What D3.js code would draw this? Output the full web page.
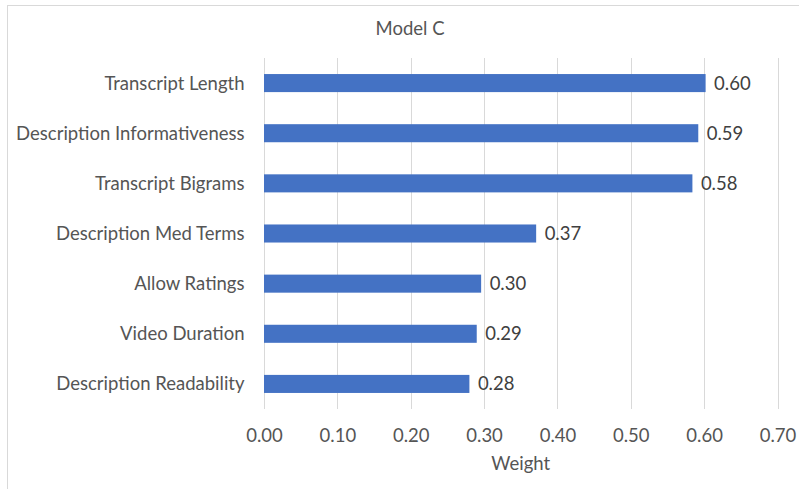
<!DOCTYPE html>
<html>
<head>
<meta charset="utf-8">
<script src="https://cdn.jsdelivr.net/npm/d3@7"></script>
<style>
  html, body { margin: 0; padding: 0; background: #fff; }
  svg { display: block; }
  text { font-family: Lato, "Open Sans", sans-serif; }
</style>
</head>
<body>
<svg id="chart" width="799" height="489"></svg>
<script>
// Feature weights for Model C
const categories = [
  "Transcript Length",
  "Description Informativeness",
  "Transcript Bigrams",
  "Description Med Terms",
  "Allow Ratings",
  "Video Duration",
  "Description Readability"
];
const weights = [0.602, 0.592, 0.584, 0.371, 0.296, 0.290, 0.280];
const xTicks = [0, 0.1, 0.2, 0.3, 0.4, 0.5, 0.6, 0.7];
const chartTitle = "Model C";
const xTitle = "Weight";

const data = categories.map((c, i) => ({ name: c, value: weights[i] }));

const svg = d3.select("#chart");
const W = 799, H = 489;
const plot = { left: 264, right: 777.5, top: 58, bottom: 409 };
const fontSize = "18.5px";
const axisColor = "#555555";

// chart frame
svg.append("rect")
  .attr("x", 7.5).attr("y", 5.5)
  .attr("width", W).attr("height", H)
  .attr("fill", "#fff").attr("stroke", "#d9d9d9").attr("stroke-width", 1);

const x = d3.scaleLinear().domain([0, 0.7]).range([plot.left, plot.right]);
const y = d3.scaleBand().domain(categories)
  .range([plot.top, plot.bottom])
  .paddingInner(0.64).paddingOuter(0.32);

// vertical gridlines
svg.append("g").selectAll("line")
  .data(xTicks).join("line")
  .attr("x1", d => Math.round(x(d)) + 0.5).attr("x2", d => Math.round(x(d)) + 0.5)
  .attr("y1", plot.top).attr("y2", plot.bottom)
  .attr("stroke", "#d9d9d9").attr("stroke-width", 1);

// x axis tick labels
const xAxis = d3.axisBottom(x).tickValues(xTicks).tickFormat(d3.format(".2f")).tickSize(0).tickPadding(0);
const gx = svg.append("g").attr("transform", `translate(0,${plot.bottom})`).call(xAxis);
gx.select(".domain").remove();
gx.selectAll("text")
  .attr("y", 27).attr("dy", "0.35em")
  .attr("fill", axisColor).style("font-size", fontSize);

// category labels
const yAxis = d3.axisLeft(y).tickSize(0).tickPadding(0);
const gy = svg.append("g").attr("transform", `translate(${plot.left - 19.5},0)`).call(yAxis);
gy.select(".domain").remove();
gy.selectAll("text")
  .attr("x", 0).attr("dy", "0.35em")
  .attr("fill", axisColor).style("font-size", fontSize);

// bars
svg.append("g").selectAll("rect")
  .data(data).join("rect")
  .attr("x", x(0))
  .attr("y", d => y(d.name))
  .attr("width", d => x(d.value) - x(0))
  .attr("height", y.bandwidth())
  .attr("fill", "#4472c4");

// value labels
svg.append("g").selectAll("text")
  .data(data).join("text")
  .attr("x", d => x(d.value) + 8.5)
  .attr("y", d => y(d.name) + y.bandwidth() / 2)
  .attr("dy", "0.35em")
  .attr("fill", "#404040")
  .style("font-size", fontSize)
  .text(d => d3.format(".2f")(d.value));

// chart title
svg.append("text")
  .attr("x", 410).attr("y", 29).attr("dy", "0.35em")
  .attr("text-anchor", "middle")
  .attr("fill", axisColor).style("font-size", fontSize)
  .text(chartTitle);

// axis title
svg.append("text")
  .attr("x", (plot.left + plot.right) / 2).attr("y", 464).attr("dy", "0.35em")
  .attr("text-anchor", "middle")
  .attr("fill", axisColor).style("font-size", fontSize)
  .text(xTitle);
</script>
</body>
</html>
